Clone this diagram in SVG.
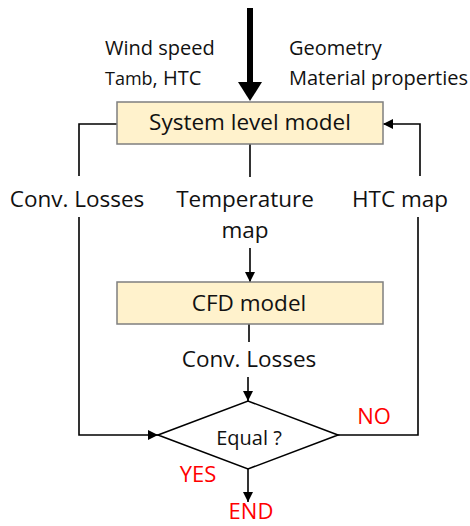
<svg xmlns="http://www.w3.org/2000/svg" width="470" height="526" viewBox="0 0 470 526">
<style>
.t{font-family:"Open Sans","Liberation Sans",sans-serif;font-size:22.5px;fill:#111}
.s{font-family:"Open Sans","Liberation Sans",sans-serif;font-size:20px;fill:#111}
.r{font-family:"Open Sans","Liberation Sans",sans-serif;font-size:22px;fill:#ff0000}
.box{fill:#fff2cc;stroke:#7f7f7f;stroke-width:1.5}
.ln{fill:none;stroke:#000;stroke-width:1.6}
</style>
<defs>
<marker id="ah" viewBox="0 0 10 10" refX="10" refY="5" markerWidth="10" markerHeight="10" markerUnits="userSpaceOnUse" orient="auto">
<path d="M0,0 L10,5 L0,10 z" fill="#000"/>
</marker>
</defs>
<rect width="470" height="526" fill="#fff"/>
<g id="connectors">
<line x1="250" y1="8" x2="250" y2="84" stroke="#000" stroke-width="6"/>
<polygon points="238,82 262,82 250,101" fill="#000"/>
<polyline class="ln" points="117,124 79,124 79,176"/>
<polyline class="ln" points="79,217 79,435 158,435" marker-end="url(#ah)"/>
<line class="ln" x1="250" y1="144" x2="250" y2="177"/>
<line class="ln" x1="250" y1="248" x2="250" y2="282" marker-end="url(#ah)"/>
<line class="ln" x1="249" y1="324" x2="249" y2="342"/>
<line class="ln" x1="248" y1="377" x2="248" y2="401" marker-end="url(#ah)"/>
<polyline class="ln" points="420,176 420,124 383,124" marker-end="url(#ah)"/>
<polyline class="ln" points="418,217 418,435 338,435"/>
<line class="ln" x1="248" y1="469" x2="248" y2="502" marker-end="url(#ah)"/>
</g>
<g id="inputs">
<text class="s" x="105" y="55">Wind speed</text>
<text class="s" x="105" y="85" font-size="21.5"><tspan font-size="18">Tamb</tspan>, HTC</text>
<text class="s" x="289" y="55">Geometry</text>
<text class="s" x="289" y="85">Material properties</text>
</g>
<g id="system">
<rect class="box" x="117" y="102" width="266" height="42"/>
<text class="t" x="250" y="130" text-anchor="middle" font-size="23">System level model</text>
</g>
<g id="labels">
<text class="t" x="77" y="207" text-anchor="middle">Conv. Losses</text>
<text class="t" x="245" y="207" text-anchor="middle">Temperature</text>
<text class="t" x="245" y="238" text-anchor="middle">map</text>
<text class="t" x="400" y="207" text-anchor="middle">HTC map</text>
<text class="t" x="249" y="367" text-anchor="middle">Conv. Losses</text>
</g>
<g id="cfd">
<rect class="box" x="117" y="282" width="266" height="42"/>
<text class="t" x="249" y="311" text-anchor="middle">CFD model</text>
</g>
<g id="decision">
<polygon points="158,435 248,401 338,435 248,469" fill="#fff" stroke="#000" stroke-width="1.6"/>
<text class="s" x="249" y="445" text-anchor="middle" font-size="18">Equal ?</text>
</g>
<g id="outcomes">
<text class="r" x="374" y="424" text-anchor="middle" font-size="22.5">NO</text>
<text class="r" x="198" y="482" text-anchor="middle">YES</text>
<text class="r" x="251" y="519" text-anchor="middle" font-size="20">END</text>
</g>
</svg>
